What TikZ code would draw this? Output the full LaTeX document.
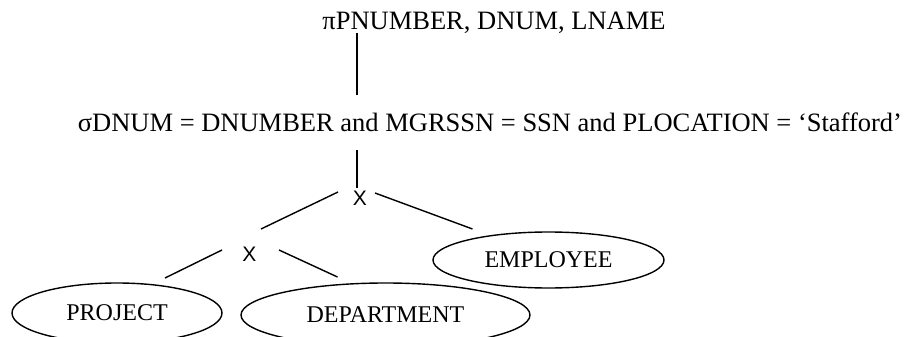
\documentclass[tikz,border=0pt]{standalone}
\usepackage{fontspec}
\setmainfont{Liberation Serif}
\newfontfamily\arialfont{Liberation Sans}
\usetikzlibrary{shapes.geometric,calc}
\begin{document}
\begin{tikzpicture}[x=1pt,y=-1pt,
  conn/.style={line width=1.4pt},
  rel/.style={draw,line width=1.4pt,ellipse,inner sep=0pt,font=\fontsize{24}{28}\selectfont},
  optext/.style={inner sep=0pt,anchor=base,font=\fontsize{26.5}{30}\selectfont},
  cross/.style={inner sep=0pt,font=\arialfont\fontsize{21}{24}\selectfont}]
\useasboundingbox (0,0) rectangle (916,337);
\clip (0,0) rectangle (916,337);
\node[optext] (pi) at (494,30) {πPNUMBER, DNUM, LNAME};
\node[optext] (sigma) at (490,131) {σDNUM = DNUMBER and MGRSSN = SSN and PLOCATION = ‘Stafford’};
\node[cross] (x1) at (360,198) {X};
\node[cross] (x2) at (249.5,254.5) {X};
\node[rel, minimum width=231pt, minimum height=56pt] (emp) at (548.5,260) {EMPLOYEE};
\node[rel, minimum width=210pt, minimum height=60pt] (proj) at (117,313) {PROJECT};
\node[rel, minimum width=289pt, minimum height=64pt] (dept) at (385.5,315) {DEPARTMENT};
\coordinate (a1) at ($(pi.base)+(-137,3)$);
\coordinate (a2) at ($(sigma.base)+(-133,-36)$);
\coordinate (b1) at ($(sigma.base)+(-133,19)$);
\draw[conn] (a1) -- (a2);
\draw[conn] (b1) -- ($(x1)+(-3,-10)$);
\draw[conn] ($(x1)+(-22,-6)$) -- ($(x2)+(11.5,-25.5)$);
\draw[conn] ($(x1)+(15,-5)$) -- ($(emp)+(-76,-31)$);
\draw[conn] ($(x2)+(-27.5,-4.5)$) -- ($(proj)+(48,-35)$);
\draw[conn] ($(x2)+(29.5,-4.5)$) -- ($(dept)+(-48,-38)$);
\end{tikzpicture}
\end{document}
